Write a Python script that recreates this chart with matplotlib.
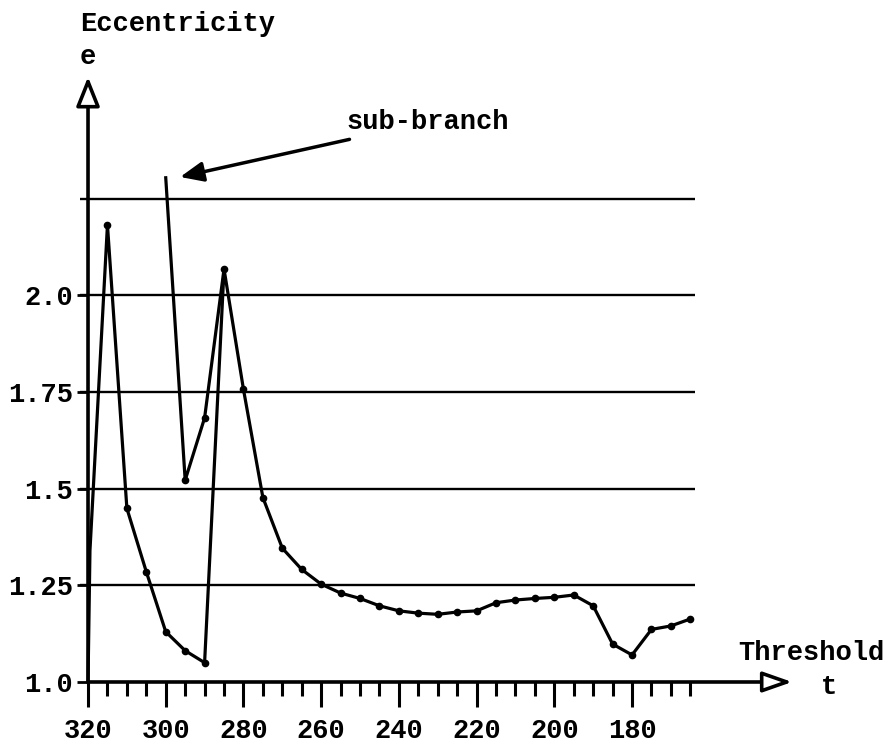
import matplotlib
matplotlib.use("Agg")
import numpy as np
import matplotlib.pyplot as plt

plt.rcParams["font.family"] = ["Liberation Mono", "DejaVu Sans Mono"]
plt.rcParams["font.weight"] = "bold"

# threshold t and eccentricity e
threshold = [320, 319.5, 315, 310, 305, 300, 295, 290, 285, 280, 275, 270, 265,
             260, 255, 250, 245, 240, 235, 230, 225, 220, 215, 210, 205, 200,
             195, 190, 185, 180, 175, 170, 165]
eccentricity = [1.0, 1.34, 2.182, 1.449, 1.285, 1.130, 1.081, 1.050, 2.068,
                1.757, 1.477, 1.346, 1.291, 1.253, 1.230, 1.216, 1.197, 1.184,
                1.178, 1.175, 1.181, 1.184, 1.205, 1.212, 1.216, 1.219, 1.225,
                1.197, 1.098, 1.070, 1.136, 1.145, 1.163]

sub_threshold = [300, 295, 290, 285]
sub_eccentricity = [2.304, 1.522, 1.683, 2.068]

grid_levels = [1.25, 1.5, 1.75, 2.0, 2.25]
y_ticks = [1.0, 1.25, 1.5, 1.75, 2.0]
y_labels = ["1.0", "1.25", "1.5", "1.75", "2.0"]
x_major = [320, 300, 280, 260, 240, 220, 200, 180]
x_minor = np.arange(320, 164, -5)

fig = plt.figure(figsize=(8.89, 7.48), dpi=100)
ax = fig.add_axes([0, 0, 1, 1])
ax.set_xlim(342.65, 113.88)
ax.set_ylim(0.8293, 2.7637)

for s in ax.spines.values():
    s.set_visible(False)
ax.spines["bottom"].set_position(("data", 1.0))
ax.spines["left"].set_position(("data", 320))

# horizontal reference lines
ax.hlines(grid_levels, 322.06, 163.8, color="black", lw=1.7)

# axes with open arrow heads
ax.annotate("", xy=(320, 2.565), xytext=(320, 1.0),
            arrowprops=dict(arrowstyle="-|>,head_length=0.4,head_width=0.16",
                            fc="white", ec="black", lw=2.6,
                            mutation_scale=45, shrinkA=0, shrinkB=0))
ax.annotate("", xy=(138.8, 1.0), xytext=(320, 1.0),
            arrowprops=dict(arrowstyle="-|>,head_length=0.4,head_width=0.14",
                            fc="white", ec="black", lw=2.6,
                            mutation_scale=45, shrinkA=0, shrinkB=0))

# curves
ax.plot(threshold, eccentricity, color="black", lw=2.3)
ax.plot(threshold[2:], eccentricity[2:], "o", color="black", ms=4.5)
ax.plot(sub_threshold, sub_eccentricity, color="black", lw=2.3)
ax.plot(sub_threshold[1:3], sub_eccentricity[1:3], "o", color="black", ms=4.5)

# ticks
ax.set_xticks(x_major)
ax.set_xticklabels([str(v) for v in x_major])
ax.set_xticks(x_minor, minor=True)
ax.tick_params(axis="x", which="major", direction="out", length=18, width=2.2,
               pad=8, labelsize=19.5)
ax.tick_params(axis="x", which="minor", direction="out", length=10, width=2.2)
ax.set_yticks(y_ticks)
ax.set_yticklabels(y_labels)
ax.tick_params(axis="y", which="major", direction="out", length=8, width=2,
               pad=3, labelsize=19.5)

# labels
ax.text(322.06, 2.7016, "Eccentricity", fontsize=19.5, ha="left", va="center")
ax.text(322.06, 2.616, "e", fontsize=19.5, ha="left", va="center")
ax.text(152.7, 1.075, "Threshold", fontsize=19.5, ha="left", va="center")
ax.text(131.4, 0.988, "t", fontsize=19.5, ha="left", va="center")

ax.annotate("sub-branch", xy=(296.3, 2.306), xytext=(253.6, 2.448),
            fontsize=19.5, ha="left", va="center",
            arrowprops=dict(arrowstyle="-|>,head_length=0.7,head_width=0.3",
                            fc="black", ec="black", lw=2.5,
                            mutation_scale=20, shrinkA=5, shrinkB=0))

fig.savefig("out.png", dpi=100)
